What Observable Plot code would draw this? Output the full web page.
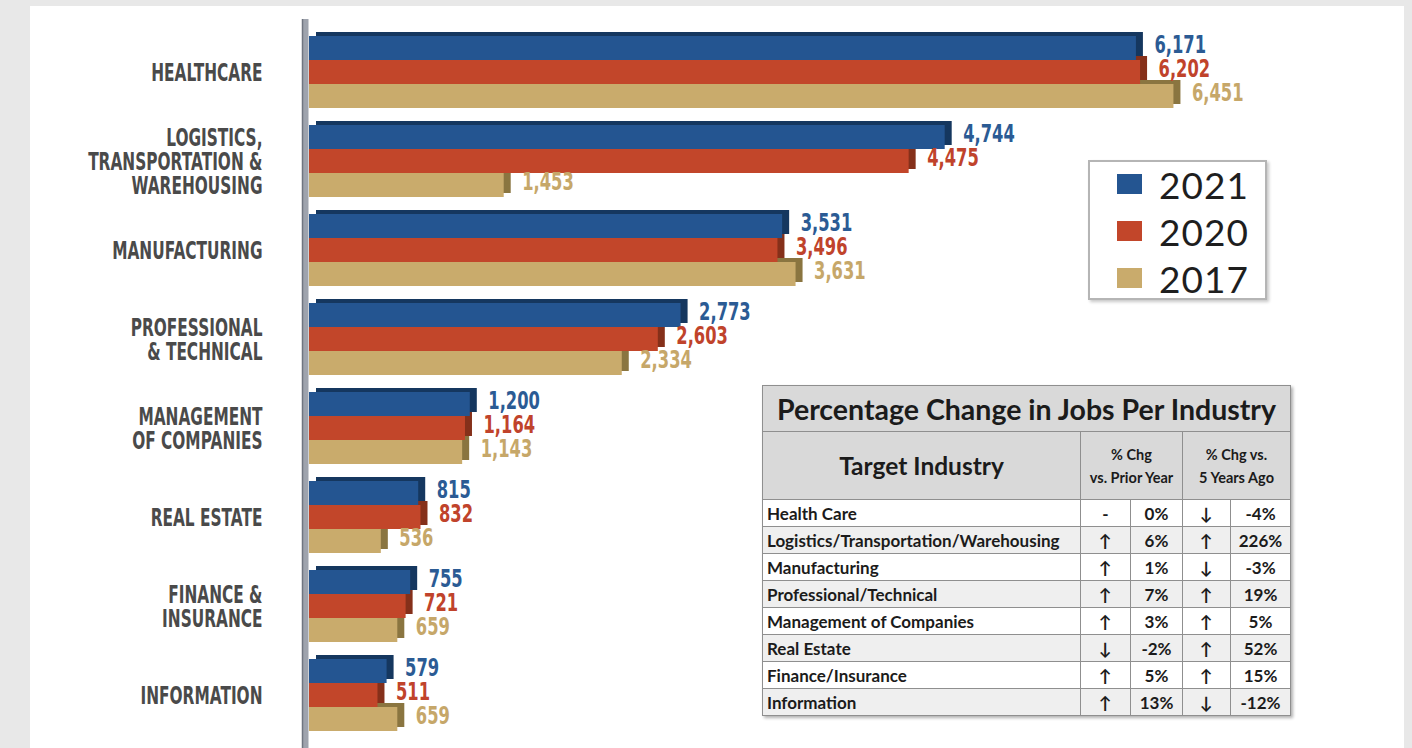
<!DOCTYPE html>
<html><head><meta charset="utf-8">
<script src="https://cdn.jsdelivr.net/npm/d3@7"></script>
<script src="https://cdn.jsdelivr.net/npm/@observablehq/plot@0.6"></script>
<style>
body{margin:0;background:#e8e8e8;width:1412px;height:748px;overflow:hidden;position:relative;font-family:Lato,"Open Sans",sans-serif}
#panel{position:absolute;left:30px;top:6px;width:1374px;height:742px;background:#fff}
#chart{position:absolute;left:0;top:0}
#legend{position:absolute;left:1088px;top:160px;width:175px;height:136px;border:2px solid #b5b5b5;background:#fff;box-shadow:2px 2px 3px #c8c8c8}
.li{position:absolute;left:27px;height:40px;display:flex;align-items:center}
.sw{width:25px;height:20px;margin-right:17px}
.lt{font-size:37px;color:#1e1e1e;font-family:Lato,"Open Sans",sans-serif;letter-spacing:1px}
#tbl{position:absolute;left:762px;top:385px;width:528px;border-collapse:collapse;table-layout:fixed;font-family:Lato,"Open Sans",sans-serif;font-weight:bold;color:#1b1b1b;box-shadow:2px 2px 3px #b0b0b0;background:#fff}
#tbl td,#tbl th{border:1.5px solid #8f8f8f;padding:0;overflow:hidden;white-space:nowrap}
#tbl .title{background:#d9d9d9;height:45px;font-size:28.5px;text-align:center}
#tbl .hdr th{background:#d9d9d9;height:67px}
#tbl .hdr .big{font-size:24.5px}
#tbl .hdr .small{font-size:14.5px;line-height:23px}
#tbl td{height:26px;font-size:17px;text-align:center}
#tbl td.ind{text-align:left;padding-left:4px}
#tbl tr.alt td{background:#efefef}
</style></head><body>
<div id="panel"></div><div id="chart"></div><div id="legend"></div>
<script>
// ---- data ----
const categories = ["HEALTHCARE","LOGISTICS,\nTRANSPORTATION &\nWAREHOUSING","MANUFACTURING","PROFESSIONAL\n& TECHNICAL","MANAGEMENT\nOF COMPANIES","REAL ESTATE","FINANCE &\nINSURANCE","INFORMATION"];
const years = ["2021","2020","2017"];
const jobs2021 = [6171,4744,3531,2773,1200,815,755,579];
const jobs2020 = [6202,4475,3496,2603,1164,832,721,511];
const jobs2017 = [6451,1453,3631,2334,1143,536,659,659];
const barColors = ["#245591","#c2462a","#c9ab6c"];
const sideColors = ["#15375f","#85301a","#8a7540"];
const labelColors = ["#2b5b94","#c0432b","#c6a769"];

const tableTitle = "Percentage Change in Jobs Per Industry";
const tableHeaders = ["Target Industry","% Chg\nvs. Prior Year","% Chg vs.\n5 Years Ago"];
const tableIndustries = ["Health Care","Logistics/Transportation/Warehousing","Manufacturing","Professional/Technical","Management of Companies","Real Estate","Finance/Insurance","Information"];
const priorArrow = ["-","↑","↑","↑","↑","↓","↑","↑"];
const priorPct = ["0%","6%","1%","7%","3%","-2%","5%","13%"];
const fiveArrow = ["↓","↑","↓","↑","↑","↑","↑","↓"];
const fivePct = ["-4%","226%","-3%","19%","5%","52%","15%","-12%"];

// ---- chart ----
const series = [jobs2021, jobs2020, jobs2017];
const rows = categories.flatMap((c, i) => years.map((y, j) => ({category: c, year: y, j, value: series[j][i]})));
const font = '"DejaVu Sans","Liberation Sans",sans-serif';
const fmt = d3.format(",");
const marks = [
  Plot.ruleX([0], {stroke: "#9ea3ad", strokeWidth: 6, dx: -4}),
  Plot.ruleX([0], {stroke: "#6f7580", strokeWidth: 1.5, dx: -7})
];
for (const j of [2, 1, 0]) {
  const d = rows.filter(r => r.j === j);
  const inset = {insetTop: j * 24, insetBottom: (2 - j) * 24};
  marks.push(
    Plot.barX(d, {y: "category", x: "value", fill: sideColors[j], dx: 7, dy: -4, ...inset}),
    Plot.barX(d, {y: "category", x: "value", fill: barColors[j], ...inset})
  );
}
for (const j of [0, 1, 2]) {
  const d = rows.filter(r => r.j === j);
  marks.push(Plot.text(d, {
    y: "category", x: "value", text: r => fmt(r.value), dx: 18, dy: (j - 1) * 24 - 3,
    textAnchor: "start", fill: labelColors[j], fontSize: 24, fontWeight: "bold", fontFamily: font
  }));
}
marks.push(Plot.text(categories, {
  y: d => d, x: d => 0, text: d => d, textAnchor: "end", dx: -47, dy: 1,
  fontSize: 24, lineHeight: 0.97, fill: "#4a4a4a", fontWeight: "bold", fontFamily: font
}));

const chart = Plot.plot({
  width: 1412, height: 748,
  marginTop: 19, marginBottom: 0, marginLeft: 309, marginRight: 165,
  style: {background: "transparent", overflow: "visible"},
  x: {domain: [0, 7000], axis: null},
  y: {domain: categories, padding: 0.19, axis: null},
  marks
});
document.getElementById("chart").appendChild(chart);

// condense the text horizontally (narrow display face look)
function condense(g, kx, ky) {
  d3.select(g).selectAll("text").each(function() {
    const t = this.getAttribute("transform");
    if (t) this.setAttribute("transform", t + ` scale(${kx},${ky})`);
    else {
      const x = +this.getAttribute("x") || 0;
      this.setAttribute("transform", `translate(${x},0) scale(${kx},${ky}) translate(${-x},0)`);
    }
  });
}
const textGroups = d3.select(chart).selectAll('g[aria-label="text"]').nodes();
textGroups.forEach((g, i) => i === textGroups.length - 1 ? condense(g, 0.64, 1.04) : condense(g, 0.68, 1));

// ---- legend ----
const legend = document.getElementById("legend");
years.forEach((y, j) => {
  const it = document.createElement("div");
  it.className = "li";
  it.style.top = (2 + j * 47) + "px";
  it.innerHTML = `<div class="sw" style="background:${barColors[j]}"></div><span class="lt">${y}</span>`;
  legend.appendChild(it);
});

// ---- table ----
const tbl = document.createElement("table");
tbl.id = "tbl";
let html = `<colgroup><col style="width:318px"><col style="width:50px"><col style="width:52px"><col style="width:48px"><col style="width:60px"></colgroup>`;
html += `<tr><th class="title" colspan="5">${tableTitle}</th></tr>`;
html += `<tr class="hdr"><th class="big">${tableHeaders[0]}</th><th class="small" colspan="2">${tableHeaders[1].replace("\n","<br>")}</th><th class="small" colspan="2">${tableHeaders[2].replace("\n","<br>")}</th></tr>`;
tableIndustries.forEach((ind, i) => {
  html += `<tr class="${i % 2 ? "alt" : ""}"><td class="ind">${ind}</td><td>${priorArrow[i]}</td><td>${priorPct[i]}</td><td>${fiveArrow[i]}</td><td>${fivePct[i]}</td></tr>`;
});
tbl.innerHTML = html;
document.body.appendChild(tbl);
</script>
</body></html>
